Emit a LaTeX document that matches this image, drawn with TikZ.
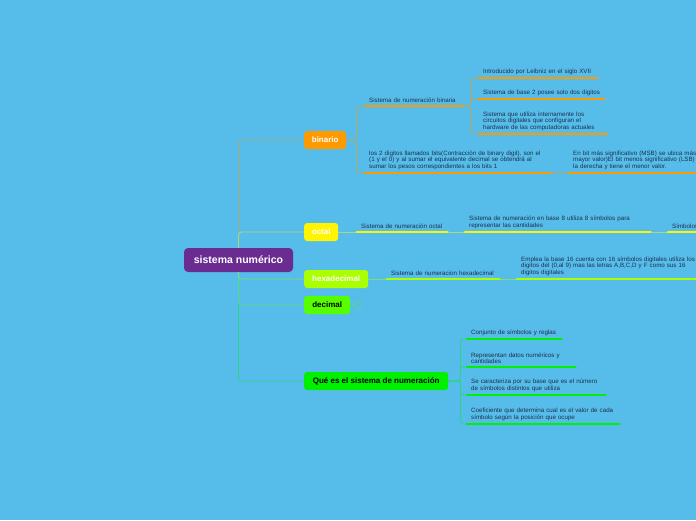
\documentclass[tikz,border=0pt]{standalone}
\usepackage{fontspec}
\setmainfont{Liberation Sans}
\definecolor{mmsky}{HTML}{56BDEA}
\definecolor{mmpurple}{HTML}{6A2C90}
\definecolor{mmorange}{HTML}{FF9900}
\definecolor{mmyellow}{HTML}{FFF500}
\definecolor{mmlime}{HTML}{AAFF00}
\definecolor{mmgreen}{HTML}{55FF00}
\definecolor{mmbright}{HTML}{00F000}
\definecolor{mmink}{HTML}{1D2F4B}

\begin{document}
\begin{tikzpicture}[x=1pt,y=-1pt,
    topic/.style={rounded corners=3pt,minimum height=18pt,inner sep=0pt,anchor=west,font=\fontsize{8}{9}\selectfont\bfseries},
    leaf/.style={anchor=south west,inner xsep=4pt,inner ysep=3pt,align=left,text=mmink,font=\fontsize{6.2}{6.7}\selectfont},
    link/.style={line width=0.8pt,rounded corners=3pt},
    uline/.style={line width=2.8pt,line cap=round}]
  \fill[mmsky] (0,0) rectangle (696,520);
  \clip (0,0) rectangle (696,520);

  % central topic and main branches
  \node[rounded corners=4pt,fill=mmpurple,text=white,minimum width=109pt,minimum height=24pt,
        font=\fontsize{10.5}{12}\selectfont\bfseries] (root) at (238.5,260) {sistema numérico};
  \node[topic,fill=mmorange,text=white,minimum width=42pt] (binario) at (304,140) {binario};
  \node[topic,fill=mmyellow,text=white,minimum width=34pt] (octal) at (304,232) {octal};
  \node[topic,fill=mmlime,text=white,minimum width=64pt] (hexa) at (304,279) {hexadecimal};
  \node[topic,fill=mmgreen,text=black,minimum width=46pt] (decimal) at (304,305) {decimal};
  \node[topic,fill=mmbright,text=black,minimum width=144pt] (quees) at (304,381) {Qué es el sistema de numeración};
  \node[circle,draw=mmgreen!45!mmsky,line width=0.6pt,minimum size=8pt,inner sep=0pt] (decmore) at (358,305) {};

  \draw[link,mmorange!50!mmsky] (root.north) |- (binario.west);
  \draw[link,mmyellow!50!mmsky] (root.north) |- (octal.west);
  \draw[link,mmbright!45!mmsky] (root.south) |- (quees.west);
  \draw[link,mmgreen!50!mmsky] (root.south) |- (decimal.west);
  \draw[link,mmlime!50!mmsky] (root.south) |- (hexa.west);
  \draw[link,mmgreen!45!mmsky] (decimal.east) -- (decmore);

  % binario
  \node[leaf,text width=89pt] (bsis) at (365,106) {Sistema de numeración binaria};
  \node[leaf,text width=110pt] (bleib) at (479,78) {Introducido por Leibniz en el siglo XVII};
  \node[leaf,text width=117pt] (bbase) at (479,99) {Sistema de base 2 posee solo dos digitos};
  \node[leaf,text width=120pt] (bcirc) at (479,134) {Sistema que utiliza internamente los\\circuitos digitales que configuran el\\hardware de las computadoras actuales};
  \node[leaf,text width=177pt] (bdig) at (365,173) {los 2 digitos llamados bits(Contracción de binary digit), son el\\(1 y el 0) y al sumar el equivalente decimal se obtendrá al\\sumar los pesos correspondientes a los bits 1};
  \node[leaf,text width=135pt] (bmsb) at (569,173) {En bit más significativo (MSB) se ubica más\\mayor valor)El bit menos significativo (LSB)\\la derecha y tiene el menor valor.};

  \draw[link,mmorange!60!mmsky] (binario.east) -- ++(10,0) |- (bsis.south west);
  \draw[link,mmorange!60!mmsky] (binario.east) -- ++(10,0) |- (bdig.south west);
  \foreach \n in {bleib,bbase,bcirc}
    \draw[link,mmorange!60!mmsky] (bsis.south east) -- ++(8,0) |- (\n.south west);
  \draw[link,mmorange!60!mmsky] (bdig.south east) -- (bmsb.south west);

  % octal
  \node[leaf,text width=82pt] (osis) at (357,232) {Sistema de numeración octal};
  \node[leaf,text width=177pt] (obase) at (465,232) {Sistema de numeración en base 8 utiliza 8 símbolos para\\representar las cantidades};
  \node[leaf,text width=52pt] (osimb) at (668,232) {Símbolos};
  \draw[link,mmyellow!50!mmsky] (octal.east) -- (osis.south west);
  \draw[link,mmyellow!50!mmsky] (osis.south east) -- (obase.south west);
  \draw[link,mmyellow!50!mmsky] (obase.south east) -- (osimb.south west);

  % hexadecimal
  \node[leaf,text width=104pt] (hsis) at (387,279) {Sistema de numeracion hexadecimal};
  \node[leaf,text width=177pt] (hemp) at (517,279) {Emplea la base 16 cuenta con 16 símbolos digitales utiliza los\\digitos del (0,al 9) mas las letras A,B,C,D y F como sus 16\\digitos digitales};
  \draw[link,mmlime!50!mmsky] (hexa.east) -- (hsis.south west);
  \draw[link,mmlime!50!mmsky] (hsis.south east) -- (hemp.south west);

  % que es
  \node[leaf,text width=86pt] (qconj) at (467,339) {Conjunto de símbolos y reglas};
  \node[leaf,text width=100pt] (qdatos) at (467,367) {Representan datos numéricos y\\cantidades};
  \node[leaf,text width=130pt] (qbase) at (467,395) {Se caracteriza por su base que es el número\\de símbolos distintos que utiliza};
  \node[leaf,text width=144pt] (qcoef) at (467,424) {Coeficiente que determina cual es el valor de cada\\símbolo según la posición que ocupe};
  \foreach \n in {qconj,qdatos,qbase,qcoef}
    \draw[link,mmbright!45!mmsky] (quees.east) -- ++(12,0) |- (\n.south west);

  % underlines
  \foreach \n in {bsis,bleib,bbase,bcirc,bdig,bmsb}
    \draw[uline,mmorange] (\n.south west) -- (\n.south east);
  \foreach \n in {osis,obase,osimb}
    \draw[uline,mmyellow] (\n.south west) -- (\n.south east);
  \foreach \n in {hsis,hemp}
    \draw[uline,mmlime] (\n.south west) -- (\n.south east);
  \foreach \n in {qconj,qdatos,qbase,qcoef}
    \draw[uline,mmbright] (\n.south west) -- (\n.south east);
\end{tikzpicture}
\end{document}
